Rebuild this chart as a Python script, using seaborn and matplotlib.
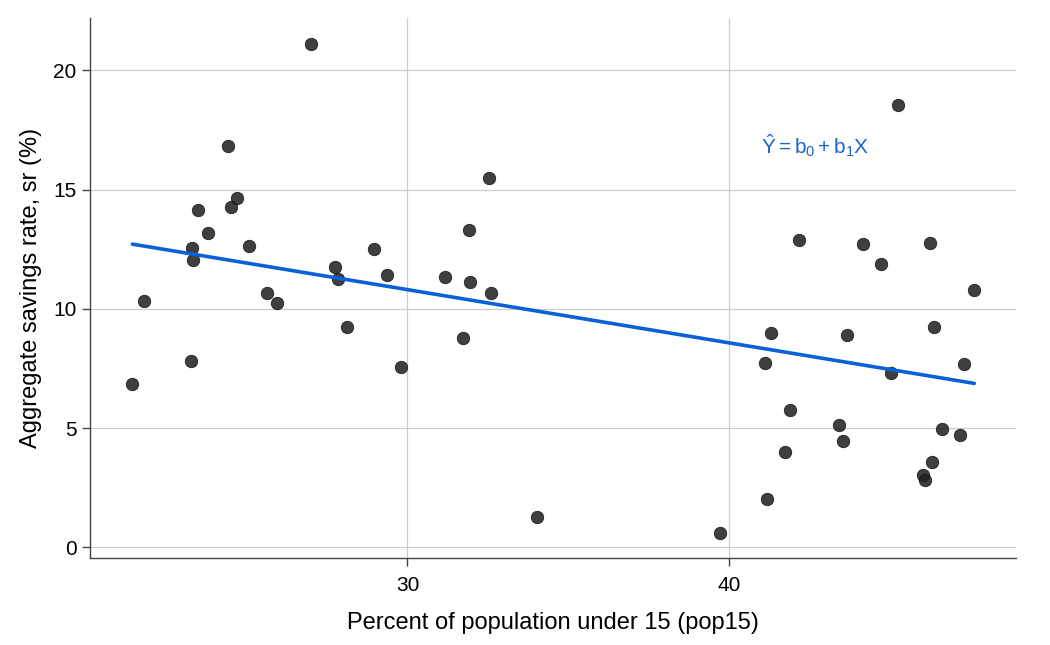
import seaborn as sns
import matplotlib.pyplot as plt
import pandas as pd

# LifeCycleSavings: pop15 vs sr
country = ["Australia", "Austria", "Belgium", "Bolivia", "Brazil", "Canada", "Chile",
           "China", "Colombia", "Costa Rica", "Denmark", "Ecuador", "Finland", "France",
           "Germany", "Greece", "Guatamala", "Honduras", "Iceland", "India", "Ireland",
           "Italy", "Japan", "Korea", "Luxembourg", "Malta", "Norway", "Netherlands",
           "New Zealand", "Nicaragua", "Panama", "Paraguay", "Peru", "Philippines",
           "Portugal", "South Africa", "South Rhodesia", "Spain", "Sweden", "Switzerland",
           "Turkey", "Tunisia", "United Kingdom", "United States", "Venezuela", "Zambia",
           "Jamaica", "Uruguay", "Libya", "Malaysia"]
pop15 = [29.35, 23.32, 23.80, 41.89, 42.19, 31.72, 39.74, 44.75, 46.64, 47.64,
         24.42, 46.31, 27.84, 25.06, 23.31, 25.62, 46.05, 47.32, 34.03, 41.31,
         31.16, 24.52, 27.01, 41.74, 21.80, 32.54, 25.95, 24.71, 32.61, 45.04,
         43.56, 41.18, 44.19, 46.26, 28.96, 31.94, 31.92, 27.74, 21.44, 23.49,
         43.42, 46.12, 23.27, 29.81, 46.40, 45.25, 41.12, 28.13, 43.69, 47.20]
sr = [11.43, 12.07, 13.17, 5.75, 12.88, 8.79, 0.60, 11.90, 4.98, 10.78,
      16.85, 3.59, 11.24, 12.64, 12.55, 10.67, 3.01, 7.70, 1.27, 9.00,
      11.34, 14.28, 21.10, 3.98, 10.35, 15.48, 10.25, 14.65, 10.67, 7.30,
      4.44, 2.02, 12.70, 12.78, 12.49, 11.14, 13.30, 11.77, 6.86, 14.13,
      5.13, 2.81, 7.81, 7.56, 9.22, 18.56, 7.72, 9.24, 8.89, 4.71]

df = pd.DataFrame({"country": country, "pop15": pop15, "sr": sr})

sns.set_style("white")
plt.rcParams["font.family"] = ["Liberation Sans", "DejaVu Sans"]
plt.rcParams["mathtext.fontset"] = "custom"
plt.rcParams["mathtext.rm"] = "Liberation Sans"
plt.rcParams["mathtext.it"] = "Liberation Sans"

fig, ax = plt.subplots(figsize=(10.5, 6.45), dpi=100)
fig.subplots_adjust(left=0.086, right=0.968, top=0.972, bottom=0.135)

sns.regplot(data=df, x="pop15", y="sr", ci=None, ax=ax,
            scatter_kws=dict(s=80, color="#222222", edgecolor="#111111",
                             linewidths=0.6, alpha=0.87, zorder=3),
            line_kws=dict(color="#0a60d6", lw=2.6, zorder=4))

ax.text(41.0, 16.85, r"$\hat{Y} = b_0 + b_1 X$", color="#1a66cc",
        fontsize=15, va="center", ha="left")

ax.set_xlim(20.13, 48.95)
ax.set_ylim(-0.45, 22.2)
ax.set_xticks([30, 40])
ax.set_yticks([0, 5, 10, 15, 20])
ax.grid(True, color="#cccccc", lw=0.9)
ax.set_axisbelow(True)
sns.despine(ax=ax)
for s in ["left", "bottom"]:
    ax.spines[s].set_color("#444444")
    ax.spines[s].set_linewidth(1.0)
ax.tick_params(axis="both", bottom=True, left=True, length=6, width=1,
               color="#444444", labelsize=15, labelcolor="black", pad=4)
ax.tick_params(axis="x", pad=7)
ax.set_xlabel("Percent of population under 15 (pop15)", fontsize=17,
              labelpad=12, color="black")
ax.set_ylabel("Aggregate savings rate, sr (%)", fontsize=17,
              labelpad=8, color="black")

fig.savefig("out.png", dpi=100)
